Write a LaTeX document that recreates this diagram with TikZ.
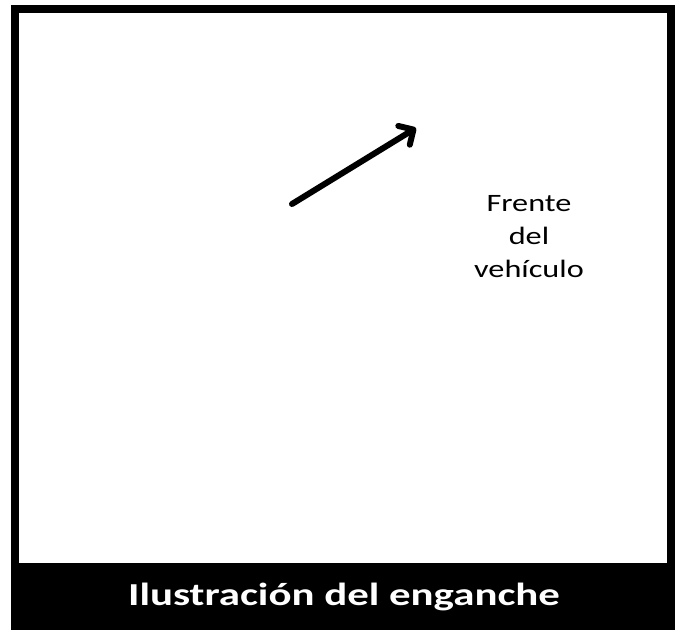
\documentclass[tikz,border=0pt]{standalone}
\usepackage{fontspec}
\setmainfont{Carlito}
\usetikzlibrary{arrows.meta, positioning}
\tikzset{
  frame/.style={fill=black},
  panel/.style={fill=white},
  pointer/.style={line width=6pt,line cap=round,-{Straight Barb[length=11pt,width=22pt,round]}},
  caption/.style={align=center,xscale=1.29,font=\fontsize{25}{33}\selectfont},
  titletext/.style={text=white,xscale=1.34,font=\fontsize{32}{38}\selectfont\bfseries}
}
\begin{document}
\begin{tikzpicture}[x=1pt,y=-1pt]
    \useasboundingbox (0,0) rectangle (675,630);
    \fill[frame] (11,5) rectangle (675,630);
    \fill[panel] (19,13) rectangle (667,563);

    \coordinate (tail) at (292,204);
    \coordinate (tip) at (416,128);
    \draw[pointer] (tail) -- (tip);

    \node (front) [caption] at (529,237) {Frente\\del\\vehículo};
    \node (title) [titletext] at (344,597) {Ilustración del enganche};
\end{tikzpicture}
\end{document}
